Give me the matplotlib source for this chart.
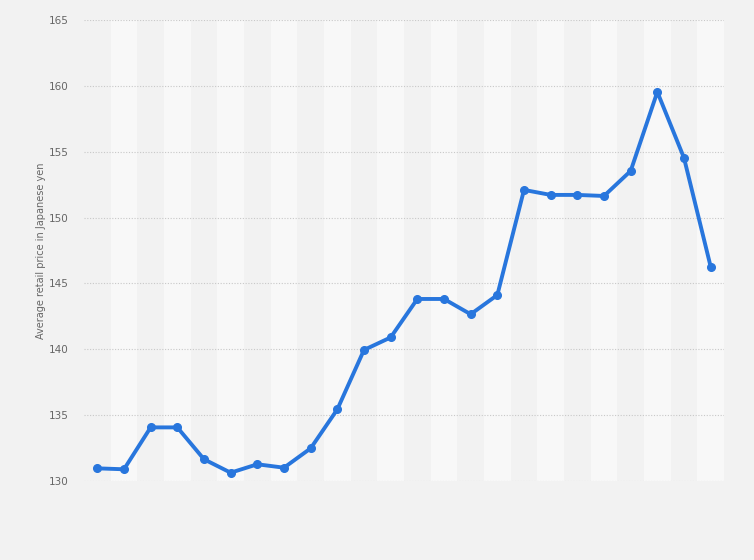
import matplotlib
matplotlib.use("Agg")
import matplotlib.pyplot as plt

categories = list(range(1, 25))
prices = [130.96, 130.89, 134.07, 134.07, 131.65, 130.63, 131.27, 131.01,
          132.48, 135.44, 139.95, 140.9, 143.82, 143.82, 142.66, 144.12,
          152.1, 151.72, 151.72, 151.64, 153.54, 159.54, 154.53, 146.27]
yticks = [130, 135, 140, 145, 150, 155, 160, 165]
ylabel = "Average retail price in Japanese yen"

bg = "#f2f2f2"
fig = plt.figure(figsize=(7.54, 5.6), dpi=100, facecolor=bg)
ax = fig.add_axes([84/754, 1-481/560, 640/754, 461/560])
ax.set_facecolor(bg)

x = list(range(len(categories)))
for i in x:
    if i % 2 == 1:
        ax.axvspan(i - 0.5, i + 0.5, color="#f8f8f8", zorder=0, lw=0)

ax.set_xlim(-0.5, len(categories) - 0.5)
ax.set_ylim(130, 165)
ax.set_yticks(yticks)
ax.set_yticklabels([str(t) for t in yticks])
ax.yaxis.grid(True, linestyle=(0, (1, 1.5)), color="#c8c8c8", linewidth=0.8, zorder=1)
ax.set_axisbelow(True)
ax.set_xticks([])
for s in ax.spines.values():
    s.set_visible(False)
ax.tick_params(axis="y", length=0, pad=11, labelsize=7.5, labelcolor="#666666")

ax.plot(x, prices, color="#2876dd", linewidth=2.8, marker="o", markersize=5.5,
        zorder=3, solid_joinstyle="round")

ax.set_ylabel(ylabel, fontsize=7, color="#666666", labelpad=2)

fig.savefig("out.png", dpi=100, facecolor=bg)
